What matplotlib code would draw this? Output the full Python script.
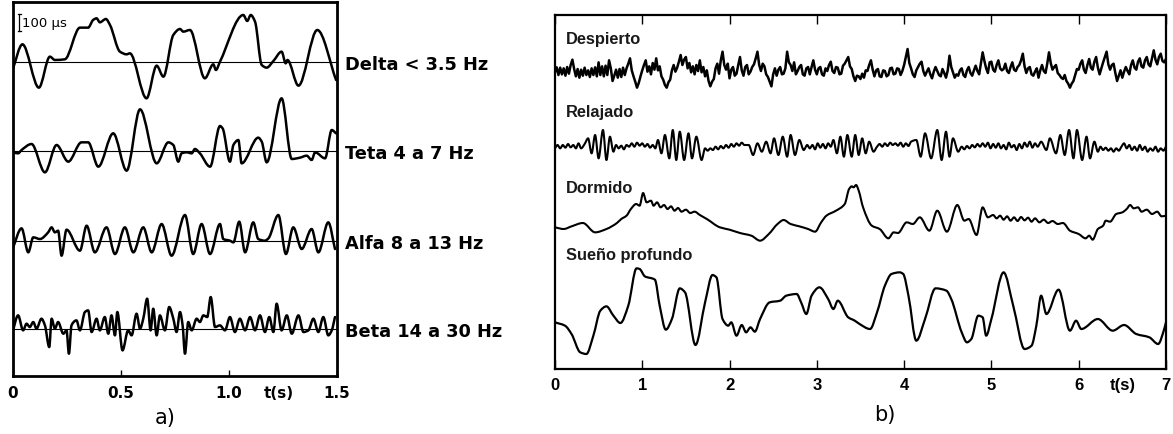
import numpy as np
import matplotlib
matplotlib.use("Agg")
import matplotlib.pyplot as plt
import matplotlib.transforms as mtransforms
from matplotlib.path import Path
from matplotlib.patches import PathPatch

# ---------------- Panel a): EEG frequency bands (0 - 1.5 s, amplitude in µV) ----------------
delta_t = [0.0, 0.046, 0.122, 0.173, 0.196, 0.242, 0.312, 0.350, 0.373, 0.389,
           0.404, 0.432, 0.451, 0.497, 0.528, 0.543, 0.620, 0.667, 0.698, 0.744,
           0.775, 0.790, 0.821, 0.890, 0.929, 0.941, 0.960, 1.068, 1.086, 1.102,
           1.122, 1.153, 1.176, 1.207, 1.245, 1.264, 1.272, 1.323, 1.410, 1.497]
delta_uv = [-50, 104, -156, 30, 10, 14, 204, 204, 250, 260,
            236, 256, 220, 60, 44, 50, -220, -24, -90, 160,
            196, 180, 190, -100, -16, -50, 0, 280, 244, 280,
            240, -20, -36, 4, 60, -10, 10, -144, 190, -110]

teta_t = [0.0, 0.026, 0.042, 0.088, 0.150, 0.204, 0.258, 0.319, 0.350, 0.397,
          0.466, 0.528, 0.590, 0.667, 0.721, 0.744, 0.767, 0.782, 0.806, 0.829,
          0.844, 0.867, 0.914, 0.960, 0.972, 1.006, 1.022, 1.045, 1.060, 1.137,
          1.153, 1.176, 1.245, 1.292, 1.330, 1.361, 1.384, 1.400, 1.446, 1.477, 1.497]
teta_uv = [-10, -16, 4, 40, -130, 34, -66, 50, 50, -96,
           104, -120, 248, -76, 50, 34, -66, -16, -10, -16,
           10, -16, -96, 148, 134, -66, 34, 64, -76, 78,
           54, -70, 314, -50, -42, -30, -56, -10, -46, 124, 104]

alfa_t = [0.0, 0.042, 0.073, 0.096, 0.127, 0.165, 0.181, 0.196, 0.211, 0.227,
          0.250, 0.312, 0.343, 0.381, 0.435, 0.474, 0.520, 0.559, 0.605, 0.644,
          0.690, 0.736, 0.798, 0.836, 0.875, 0.914, 0.960, 0.975, 1.006, 1.022,
          1.049, 1.076, 1.114, 1.137, 1.168, 1.184, 1.230, 1.265, 1.299, 1.338,
          1.384, 1.415, 1.461, 1.492]
alfa_uv = [-50, 74, -70, 20, 10, 50, 80, 50, 60, -90,
           66, -60, 90, -70, 80, -80, 80, -70, 80, -70,
           100, -90, 154, -80, 100, -80, 100, 10, 0, -10,
           114, -70, 110, 10, 0, 14, 154, -80, 80, -50,
           70, -70, 110, -50]

beta_t = [0.000, 0.026, 0.049, 0.065, 0.080, 0.096, 0.111, 0.134, 0.150, 0.170,
          0.181, 0.196, 0.211, 0.235, 0.250, 0.261, 0.273, 0.296, 0.312, 0.335,
          0.350, 0.366, 0.389, 0.404, 0.427, 0.443, 0.458, 0.474, 0.485, 0.509,
          0.535, 0.551, 0.574, 0.590, 0.605, 0.623, 0.639, 0.651, 0.667, 0.682,
          0.705, 0.725, 0.744, 0.759, 0.775, 0.787, 0.798, 0.813, 0.829, 0.852,
          0.867, 0.883, 0.901, 0.917, 0.937, 0.960, 0.983, 1.006, 1.029, 1.052,
          1.076, 1.099, 1.122, 1.145, 1.168, 1.188, 1.207, 1.222, 1.245, 1.269,
          1.292, 1.323, 1.346, 1.369, 1.392, 1.415, 1.438, 1.461, 1.477, 1.492]
beta_uv = [-20, 80, -10, 30, 10, 40, 0, 60, 20, -110,
           60, 0, 40, -30, -10, -150, 20, 50, -10, 100,
           110, -20, 60, -10, 70, -30, 80, -40, 100, -130,
           -10, -40, 90, 0, 60, 180, -10, 120, -40, 80,
           -10, 130, 60, -20, 100, 20, -150, 40, -10, 60,
           40, 80, 70, 190, 10, 20, -10, 70, -20, 60,
           -10, 70, -10, 80, -20, 70, -20, 150, -10, 80,
           -30, 80, -20, -10, 60, -20, 70, -40, -10, 70]

band_labels = ["Delta < 3.5 Hz", "Teta 4 a 7 Hz", "Alfa 8 a 13 Hz", "Beta 14 a 30 Hz"]
a_ticks = [0, 0.5, 1.0, 1.5]
a_ticklabels = ["0", "0.5", "1.0", "1.5"]
scale_uv = 100

# ---------------- Panel b): states of consciousness (0 - 7 s) ----------------
# "Despierto" is sampled every 0.02 s
despierto_uv = [
    0, 15, -8, 14, -6, 12, -10, 16, -4, 22, 38, 10, -12, 10, -16, 8, -10, 14, -8, 6, -14, 12, -8, 15, -12,
    30, -8, 18, -12, 20, -8, 36, 12, -26, -10, 8, -16, 10, -14, 14, -8, 12, 26, 42, 6, -12, -28, -46, -32, -12,
    6, 22, 36, 2, 18, -6, 28, 8, 42, 6, 18, -12, -22, -38, -46, -30, -22, 6, 22, 2, 14, 32, 52, 22, 38,
    46, 12, 28, 0, 18, -6, 22, 4, 36, 0, 16, -12, 6, -26, -42, -28, -20, 12, 26, -4, 36, 62, 22, 8, 26,
    -18, 8, 16, -10, -4, 22, 46, 6, -10, 16, 22, -6, 2, 16, 24, 42, 62, 22, 4, 26, 18, -6, -14, -28, -42,
    -6, 12, -10, 8, 16, -6, -4, 12, 62, 30, 22, 4, 30, -6, 4, 16, 22, -6, -10, 12, 16, -6, 16, 36, 8,
    -6, 12, 16, -6, -10, 12, 4, 22, 32, 4, -2, 16, 14, -6, -4, 20, 26, 36, 46, 18, 10, -12, -26, -10, -12,
    -20, -4, -16, 6, 4, 22, 36, 8, -12, 6, 10, -12, -14, 6, 4, -12, -8, 12, 14, -6, -4, 12, 10, -8, 4,
    22, 46, 70, 28, 12, -6, -14, 6, 16, 26, 32, 4, -10, 2, 12, -6, -18, 2, 16, 4, -8, -12, 10, -2, -16,
    6, 50, 16, 0, -16, -6, -10, 6, 12, -8, -14, 6, 16, -2, -10, 6, 20, 4, -6, 26, 60, 34, 12, -2, 30,
    32, 8, 2, 22, 36, 12, 6, 10, 26, 4, -2, 16, 30, 8, 4, 16, 22, 36, 56, 18, -2, 12, 16, -6, -10,
    2, 12, -16, 6, 22, 4, -2, 26, 60, 28, 8, 16, 22, -2, -8, -16, -20, -8, -26, -34, -46, -34, -26, -8, 10,
    8, 26, 36, 8, -2, 22, 40, 14, 8, 32, 46, 14, -6, 12, 30, 46, 62, 24, 8, 22, 26, -2, -26, -10, 6,
    -16, 2, 16, 4, -6, 22, 36, 14, 8, 32, 42, 18, 14, 36, 46, 24, 18, 42, 66, 38, 24, 46, 56, 34, 30,
    40]

relajado_t = [0.00, 0.03, 0.06, 0.09, 0.12, 0.15, 0.18, 0.21, 0.24, 0.27, 0.30,
              0.34, 0.38, 0.42, 0.46, 0.50, 0.55, 0.59, 0.63, 0.67,
              0.70, 0.73, 0.76, 0.79, 0.82, 0.85, 0.88, 0.91, 0.94, 0.97, 1.00, 1.03, 1.06, 1.09, 1.12,
              1.15, 1.18, 1.22, 1.26, 1.31, 1.35, 1.39, 1.43, 1.48, 1.53, 1.57, 1.62, 1.68,
              1.72, 1.75, 1.78, 1.81, 1.84, 1.87, 1.90, 1.93, 1.96, 1.99, 2.02, 2.05, 2.08, 2.11, 2.14, 2.17,
              2.22, 2.27, 2.32, 2.37, 2.42, 2.47, 2.51, 2.56, 2.61, 2.66, 2.70, 2.75, 2.80, 2.85,
              2.89, 2.92, 2.95, 2.98, 3.01, 3.04, 3.07, 3.10, 3.13, 3.16,
              3.19, 3.23, 3.27, 3.31, 3.35, 3.40, 3.44, 3.48, 3.52, 3.56, 3.60, 3.65,
              3.69, 3.72, 3.75, 3.78, 3.81, 3.84, 3.87, 3.90, 3.93, 3.96, 3.99, 4.02, 4.05, 4.08,
              4.14, 4.19, 4.24, 4.31, 4.38, 4.43, 4.48, 4.52, 4.56, 4.62,
              4.66, 4.69, 4.72, 4.75, 4.78, 4.81, 4.84, 4.87, 4.90, 4.93, 4.96, 4.99, 5.02, 5.05, 5.08,
              5.11, 5.14, 5.17, 5.20, 5.23, 5.26, 5.29, 5.32, 5.35, 5.38, 5.41, 5.44, 5.47, 5.50,
              5.53, 5.57, 5.63, 5.67, 5.74, 5.79, 5.84, 5.89, 5.94, 5.98, 6.04, 6.09, 6.13, 6.18, 6.22,
              6.25, 6.28, 6.31, 6.34, 6.37, 6.40, 6.43, 6.46, 6.49, 6.52, 6.55, 6.58, 6.61, 6.64, 6.67,
              6.70, 6.73, 6.76, 6.79, 6.82, 6.85, 6.88, 6.91, 6.94, 6.97, 7.00]
relajado_uv = [-5, 5, -5, 5, -3, 8, -2, 5, -5, 10, -5,
               8, 25, -20, 35, -35, 50, -40, 30, -15,
               5, -5, 3, -8, 5, 0, 10, 0, 12, 3, 10, 0, 8, -3, 5,
               -5, 20, -20, 35, -35, 50, -40, 45, -40, 40, -35, 30, -40,
               -5, -12, -5, -10, 0, -8, 2, -5, 5, -3, 8, 0, 10, 3, 12, 5,
               5, -25, 10, -15, 15, -20, 25, -25, 30, -30, 35, -25, 20, -10,
               5, -5, 5, -8, 10, -3, 8, -5, 10, 0,
               20, -20, 30, -30, 35, -30, 35, -25, 25, -20, 15, -15,
               0, 8, 0, 10, 2, 12, 5, 10, 3, 12, 0, 10, 2, 15,
               20, -30, 40, -35, 50, -40, 45, -30, 25, -15,
               0, -8, 2, -5, 5, -2, 8, 0, 10, 0, 12, -5, 8, -3, 10,
               -5, 5, -8, 12, -2, 5, -10, 8, -5, 12, 0, 15, -3, 10,
               0, 15, -10, 25, -20, 35, -25, 50, -35, 50, -40, 30, -35, 15, -15,
               0, -10, -3, -12, -5, -15, -5, -12, 0, 10, -5, 5, -10, 0, -12,
               5, -10, 0, -15, -5, -12, 0, -15, -5, -12, 0]

dormido_t = [0.00, 0.10, 0.19, 0.32, 0.46, 0.59, 0.71, 0.76, 0.82, 0.87,
             0.93, 0.97, 1.01, 1.05, 1.10, 1.13, 1.17, 1.21, 1.25, 1.29,
             1.33, 1.37, 1.41, 1.45, 1.50, 1.55, 1.60, 1.66, 1.74, 1.89,
             2.00, 2.12, 2.25, 2.35, 2.45, 2.55, 2.62, 2.70, 2.80, 2.90,
             2.98, 3.05, 3.11, 3.22, 3.32, 3.37, 3.40, 3.42, 3.45, 3.48,
             3.53, 3.63, 3.72, 3.82, 3.88, 3.93, 4.03, 4.10, 4.18, 4.29,
             4.38, 4.49, 4.61, 4.69, 4.74, 4.83, 4.90, 4.96, 5.02, 5.06,
             5.10, 5.14, 5.18, 5.22, 5.26, 5.30, 5.34, 5.38, 5.42, 5.46,
             5.50, 5.55, 5.60, 5.65, 5.70, 5.76, 5.82, 5.90, 6.00, 6.08,
             6.12, 6.16, 6.22, 6.28, 6.31, 6.36, 6.43, 6.50, 6.55, 6.59,
             6.63, 6.68, 6.72, 6.78, 6.84, 6.90, 6.95, 7.00]
dormido_uv = [-55, -60, -52, -42, -70, -60, -42, -30, -20, 0,
              15, 10, 48, 20, 25, 10, 20, 5, 12, 0,
              8, -5, 3, -8, -2, -12, -8, -18, -30, -55,
              -62, -72, -80, -95, -75, -45, -33, -45, -52, -60,
              -68, -40, -20, -5, 15, 60, 68, 65, 72, 55,
              5, -50, -60, -88, -70, -72, -40, -45, -25, -65,
              -5, -68, 12, -35, -30, -78, 5, -25, -18, -28,
              -20, -32, -22, -35, -25, -36, -24, -34, -26, -38,
              -28, -40, -32, -42, -36, -45, -42, -65, -75, -88,
              -80, -92, -60, -50, -35, -38, -15, -10, 0, 12,
              2, 5, -8, -2, -15, -8, -22, -20]

sueno_t = [0.00, 0.115, 0.19, 0.29, 0.36, 0.44, 0.52, 0.59, 0.67, 0.75,
           0.84, 0.935, 0.97, 1.03, 1.145, 1.20, 1.27, 1.34, 1.43, 1.49,
           1.61, 1.72, 1.805, 1.85, 1.92, 1.985, 2.02, 2.08, 2.14, 2.19,
           2.24, 2.29, 2.35, 2.46, 2.58, 2.65, 2.77, 2.82, 2.88, 2.94,
           3.03, 3.13, 3.19, 3.24, 3.36, 3.435, 3.49, 3.61, 3.69, 3.78,
           3.855, 3.95, 3.99, 4.05, 4.14, 4.24, 4.36, 4.485, 4.54, 4.66,
           4.72, 4.77, 4.85, 4.90, 4.94, 5.00, 5.14, 5.25, 5.38, 5.46,
           5.515, 5.57, 5.63, 5.77, 5.90, 5.97, 6.03, 6.22, 6.39, 6.52,
           6.66, 6.81, 6.91, 6.98, 7.00]
sueno_uv = [-10, -20, -45, -100, -105, -50, 25, 38, 10, -12,
            40, 152, 150, 128, 118, 40, -32, 0, 92, 80,
            -78, 50, 132, 125, 0, -20, -10, -50, -18, -40,
            -25, -38, 0, 50, 55, 70, 75, 50, 15, 70,
            95, 60, 30, 55, 5, -5, -15, -30, 20, 100,
            135, 140, 135, 70, -65, 0, 92, 85, 60, -40,
            -70, -60, 10, 5, -50, 0, 140, 40, -90, -80,
            -20, 70, 15, 88, -35, -5, -30, 0, -35, -18,
            -45, -55, -75, -30, -10]

state_labels = ["Despierto", "Relajado", "Dormido", "Sueño profundo"]
b_ticks = [0, 1, 2, 3, 4, 5, 6, 7]
b_ticklabels = ["0", "1", "2", "3", "4", "5", "6", "7"]


def trace_path(t, uv, offset):
    """Smooth monotone cubic (Bezier) curve through the digitised samples."""
    t = np.asarray(t, float)
    y = np.asarray(uv, float) + offset
    h = np.diff(t)
    d = np.diff(y) / h
    m = np.zeros_like(y)
    m[0], m[-1] = d[0], d[-1]
    for i in range(1, len(y) - 1):
        if d[i - 1] * d[i] > 0:
            w1 = 2 * h[i] + h[i - 1]
            w2 = h[i] + 2 * h[i - 1]
            m[i] = (w1 + w2) / (w1 / d[i - 1] + w2 / d[i])
    verts = [(t[0], y[0])]
    codes = [Path.MOVETO]
    for i in range(len(h)):
        verts += [(t[i] + h[i] / 3, y[i] + m[i] * h[i] / 3),
                  (t[i + 1] - h[i] / 3, y[i + 1] - m[i + 1] * h[i] / 3),
                  (t[i + 1], y[i + 1])]
        codes += [Path.CURVE4] * 3
    return Path(verts, codes)


def add_trace(ax, t, uv, offset, lw):
    ax.add_patch(PathPatch(trace_path(t, uv, offset), facecolor="none",
                           edgecolor="black", lw=lw, joinstyle="round",
                           capstyle="round"))


fig = plt.figure(figsize=(11.73, 4.35), dpi=100)
fig.patch.set_facecolor("white")

# ------------------------------- panel a ----------------------------------
ax_a = fig.add_axes([0.01066, 0.1340, 0.2764, 0.8584])
ax_a.set_xlim(0, 1.5)
ax_a.set_ylim(0, 2240)
band_offsets = [1884, 1350, 810, 282]
band_series = [(delta_t, delta_uv), (teta_t, teta_uv), (alfa_t, alfa_uv), (beta_t, beta_uv)]
lab_tr_a = mtransforms.blended_transform_factory(ax_a.transAxes, ax_a.transData)
for (t, uv), off, lab in zip(band_series, band_offsets, band_labels):
    ax_a.axhline(off, color="black", lw=0.8)
    add_trace(ax_a, t, uv, off, 1.8)
    ax_a.text(1.026, off - 42, lab, transform=lab_tr_a, ha="left", va="baseline",
              fontsize=12.8, fontweight="bold", family="DejaVu Sans", clip_on=False)

# 100 µV calibration bar
bar_x, bar_y0, cap = 0.032, 2068, 0.008
ax_a.plot([bar_x, bar_x], [bar_y0, bar_y0 + scale_uv], color="black", lw=0.9)
ax_a.plot([bar_x - cap, bar_x + cap], [bar_y0, bar_y0], color="black", lw=0.9)
ax_a.plot([bar_x - cap, bar_x + cap], [bar_y0 + scale_uv] * 2, color="black", lw=0.9)
ax_a.text(bar_x + 0.012, bar_y0 + scale_uv / 2, "100 µs", ha="left", va="center",
          fontsize=9.5, family="DejaVu Sans")

ax_a.set_xticks(a_ticks)
ax_a.set_xticklabels(a_ticklabels)
ax_a.set_xticks([1.233], ["t(s)"], minor=True)
ax_a.set_yticks([])
ax_a.tick_params(axis="x", which="major", direction="in", length=4, width=1, pad=6.5)
ax_a.tick_params(axis="x", which="minor", length=0, pad=6.5)
for lbl in ax_a.get_xticklabels(which="both"):
    lbl.set_fontfamily("DejaVu Sans")
    lbl.set_fontweight("bold")
    lbl.set_fontsize(11)
for sp in ax_a.spines.values():
    sp.set_linewidth(2.0)

# ------------------------------- panel b ----------------------------------
ax_b = fig.add_axes([0.4731, 0.1494, 0.5209, 0.8138])
ax_b.set_xlim(0, 7)
ax_b.set_ylim(0, 1062)
state_offsets = [890, 667, 480, 150]
label_y = [978, 758, 532, 330]

desp_time = np.linspace(0, 7, len(despierto_uv))
ax_b.plot(desp_time, np.asarray(despierto_uv) + state_offsets[0], color="black", lw=1.8)
add_trace(ax_b, relajado_t, relajado_uv, state_offsets[1], 1.5)
add_trace(ax_b, dormido_t, dormido_uv, state_offsets[2], 1.5)
add_trace(ax_b, sueno_t, sueno_uv, state_offsets[3], 1.6)

lab_tr_b = mtransforms.blended_transform_factory(ax_b.transAxes, ax_b.transData)
for ly, lab in zip(label_y, state_labels):
    ax_b.text(0.018, ly, lab, transform=lab_tr_b, ha="left", va="baseline",
              fontsize=11.8, fontweight="bold", family="Liberation Sans", color="#1a1a1a")

ax_b.set_xticks(b_ticks)
ax_b.set_xticklabels(b_ticklabels)
ax_b.set_xticks([6.5], ["t(s)"], minor=True)
ax_b.set_yticks([])
ax_b.tick_params(axis="x", which="major", direction="in", length=6.5, width=1,
                 top=True, pad=5.5)
ax_b.tick_params(axis="x", which="minor", length=0, pad=5.5)
for lbl in ax_b.get_xticklabels(which="both"):
    lbl.set_fontfamily("Liberation Sans")
    lbl.set_fontweight("bold")
    lbl.set_fontsize(12)
for sp in ax_b.spines.values():
    sp.set_linewidth(1.6)

fig.text(0.1407, 0.039, "a)", ha="center", va="center", fontsize=15, family="DejaVu Sans")
fig.text(0.7545, 0.046, "b)", ha="center", va="center", fontsize=15, family="DejaVu Sans")

fig.savefig("out.png", dpi=100, facecolor="white")
